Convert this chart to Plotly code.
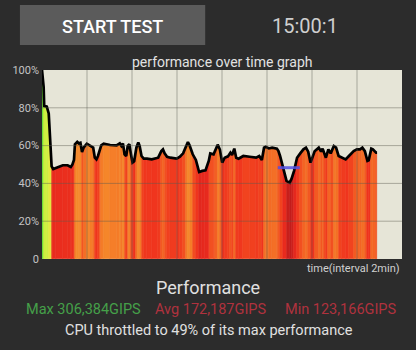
import numpy as np
import plotly.graph_objects as go

# ---- data (time in minutes, performance in % of max) ----
times = [0, 0.073, 0.098, 0.213, 0.299, 0.427, 0.499, 0.640, 0.926, 1.139, 1.280, 1.353,
         1.421, 1.463, 1.566, 1.634, 1.707, 1.779, 1.847, 1.993, 2.133, 2.274, 2.347, 2.419,
         2.487, 2.560, 2.633, 2.743, 3.029, 3.315, 3.456, 3.528, 3.597, 3.669, 3.742, 3.810,
         3.883, 3.955, 4.023, 4.096, 4.194, 4.279, 4.339, 4.424, 4.523, 4.663, 4.877, 5.163,
         5.303, 5.376, 5.449, 5.559, 5.704, 5.986, 6.131, 6.272, 6.413, 6.485, 6.558, 6.699,
         6.839, 6.984, 7.125, 7.266, 7.411, 7.479, 7.625, 7.693, 7.808, 7.906, 8.009, 8.119,
         8.265, 8.375, 8.448, 8.546, 8.631, 8.734, 8.947, 9.229, 9.515, 9.655, 9.771, 9.869,
         9.941, 10.082, 10.227, 10.440, 10.509, 10.581, 10.722, 10.867, 11.008, 11.093, 11.200,
         11.336, 11.477, 11.618, 11.733, 11.831, 11.934, 12.117, 12.301, 12.403, 12.471, 12.544,
         12.617, 12.727, 12.830, 12.971, 13.069, 13.184, 13.325, 13.495, 13.640, 13.854, 13.995,
         14.135, 14.238, 14.349, 14.464, 14.519, 14.635, 14.707, 14.848, 14.891]
perf = [100, 91, 81, 80.6, 77, 49, 47.6, 48.3, 49.6, 49.6, 48.7, 50,
        52.4, 60.7, 62, 61.2, 61.5, 56.6, 58.9, 61, 60.2, 59, 53.6, 52.7,
        54.5, 58, 60.1, 61, 60.3, 60.1, 61.2, 59.8, 61.2, 55.4, 54.5, 59.8,
        60.7, 55.4, 51, 51.7, 58.9, 61.6, 59.8, 54.5, 53.1, 53.1, 52.7, 53.6,
        57.1, 58, 55.9, 54.1, 53.6, 53.1, 54.1, 55.9, 59.8, 61.9, 60.2, 55.4,
        52.4, 46, 46.6, 46.9, 51.9, 55.9, 55.4, 57.5, 60.5, 57.9, 51, 53.6,
        54.3, 56.3, 55, 58.4, 53.6, 53.1, 54.5, 54.1, 53.6, 54.5, 52.4, 58.9,
        59.4, 58.5, 58.9, 58.4, 57.1, 54.5, 47.4, 41.3, 40.4, 42.5, 46.5,
        53.6, 55.9, 58, 58.9, 56.8, 51, 57, 58.9, 56.8, 58.4, 55.4,
        53.6, 58, 55.9, 59.8, 59, 54.5, 53.6, 52.7, 54.5, 57.1, 58,
        58, 58.9, 57.1, 51.9, 52.2, 58.4, 58, 56.3, 56.3]
marker_t = [10.48, 11.46]
marker_v = [48.3, 48.3]

x_ticks = [0, 2, 4, 6, 8, 10, 12, 14, 16]
y_ticks = [0, 20, 40, 60, 80, 100]
y_labels = ["0", "20%", "40%", "60%", "80%", "100%"]

max_text = "Max 306,384GIPS"
avg_text = "Avg 172,187GIPS"
min_text = "Min 123,166GIPS"
summary = "CPU throttled to 49% of its max performance"

# ---- styling ----
BG = "#2c2c2c"
PLOT_BG = "#e6e5d7"
FONT = "Roboto"
heat = [[0.0, "#c01c1c"], [0.117, "#e82a1e"], [0.217, "#f0361e"], [0.283, "#f35a22"],
        [0.35, "#f5862a"], [0.467, "#f4a830"], [0.583, "#f0e640"], [0.7, "#c8f040"],
        [0.833, "#98e83c"], [1.0, "#70de38"]]

t = np.array(times)
v = np.array(perf)
mid = (t[:-1] + t[1:]) / 2
wid = np.diff(t)
top = np.maximum(v[:-1], v[1:])
col = v[:-1]

W, H = 416, 350
L, R, T, B = 27, 14, 70, 91
PW, PH = W - L - R, H - T - B


def px(x):
    return (x - L) / PW


def py(y):
    return (H - B - y) / PH


fig = go.Figure()
fig.add_trace(go.Bar(x=mid, y=top, width=wid,
                     marker=dict(color=col, colorscale=heat, cmin=40, cmax=100,
                                 line=dict(width=0.6, color=col, colorscale=heat, cmin=40, cmax=100)),
                     showlegend=False, hoverinfo="skip"))
# mask above the line
fig.add_trace(go.Scatter(x=t, y=[100] * len(t), mode="lines", line=dict(width=0),
                         showlegend=False, hoverinfo="skip"))
fig.add_trace(go.Scatter(x=t, y=v, mode="lines", line=dict(width=0), fill="tonexty",
                         fillcolor=PLOT_BG, showlegend=False, hoverinfo="skip"))
fig.add_trace(go.Scatter(x=t, y=v, mode="lines", line=dict(color="black", width=2.7),
                         showlegend=False))
fig.add_trace(go.Scatter(x=marker_t, y=marker_v, mode="lines",
                         line=dict(color="rgba(80,80,230,0.85)", width=3), showlegend=False))

shapes = []
for xv in x_ticks[1:-1]:
    shapes.append(dict(type="line", xref="x", yref="y", x0=xv, x1=xv, y0=0, y1=100,
                       line=dict(color="rgba(90,90,80,0.45)", width=1), layer="above"))
for yv in y_ticks[1:-1]:
    shapes.append(dict(type="line", xref="x", yref="y", x0=0, x1=16, y0=yv, y1=yv,
                       line=dict(color="rgba(90,90,80,0.45)", width=1), layer="above"))
# button
shapes.append(dict(type="rect", xref="paper", yref="paper", x0=px(4), x1=px(197),
                   y0=py(45), y1=py(5), fillcolor="#5b5b5b", line=dict(width=0), layer="below"))

ann = []


def text(s, x, y, size, color, xanchor="center", weight="normal"):
    ann.append(dict(text=s, x=px(x), y=py(y), xref="paper", yref="paper", showarrow=False,
                    xanchor=xanchor, yanchor="middle",
                    font=dict(family=FONT, size=size, color=color, weight=weight)))


text("START TEST", 100, 26, 18, "#ffffff", weight=500)
text("15:00:1", 301, 26, 20, "#cfcfcf")
text("performance over time graph", 214, 62, 14, "#e2e2e2")
text("time(interval 2min)", 402, 268, 11, "#d0d0d0", xanchor="right")
text("Performance", 200, 287, 18, "#e0e0e0")
text(max_text, 8, 309, 14.5, "#45a049", xanchor="left")
text(avg_text, 143, 309, 14.5, "#b0323e", xanchor="left")
text(min_text, 278, 309, 14.5, "#b0323e", xanchor="left")
text(summary, 201, 330, 14.5, "#e0e0e0")

fig.update_layout(
    width=W, height=H, margin=dict(l=L, r=R, t=T, b=B),
    paper_bgcolor=BG, plot_bgcolor=PLOT_BG, bargap=0,
    shapes=shapes, annotations=ann, showlegend=False,
    xaxis=dict(range=[0, 16], tickvals=x_ticks, showticklabels=False, showgrid=False,
               zeroline=False, fixedrange=True),
    yaxis=dict(range=[0, 100], tickvals=y_ticks, ticktext=y_labels, showgrid=False,
               zeroline=False, ticks="", ticklabelstandoff=2,
               tickfont=dict(family=FONT, size=11, color="#c4c4c4"), fixedrange=True),
)

fig.write_html("out.html", config={"displayModeBar": False})
